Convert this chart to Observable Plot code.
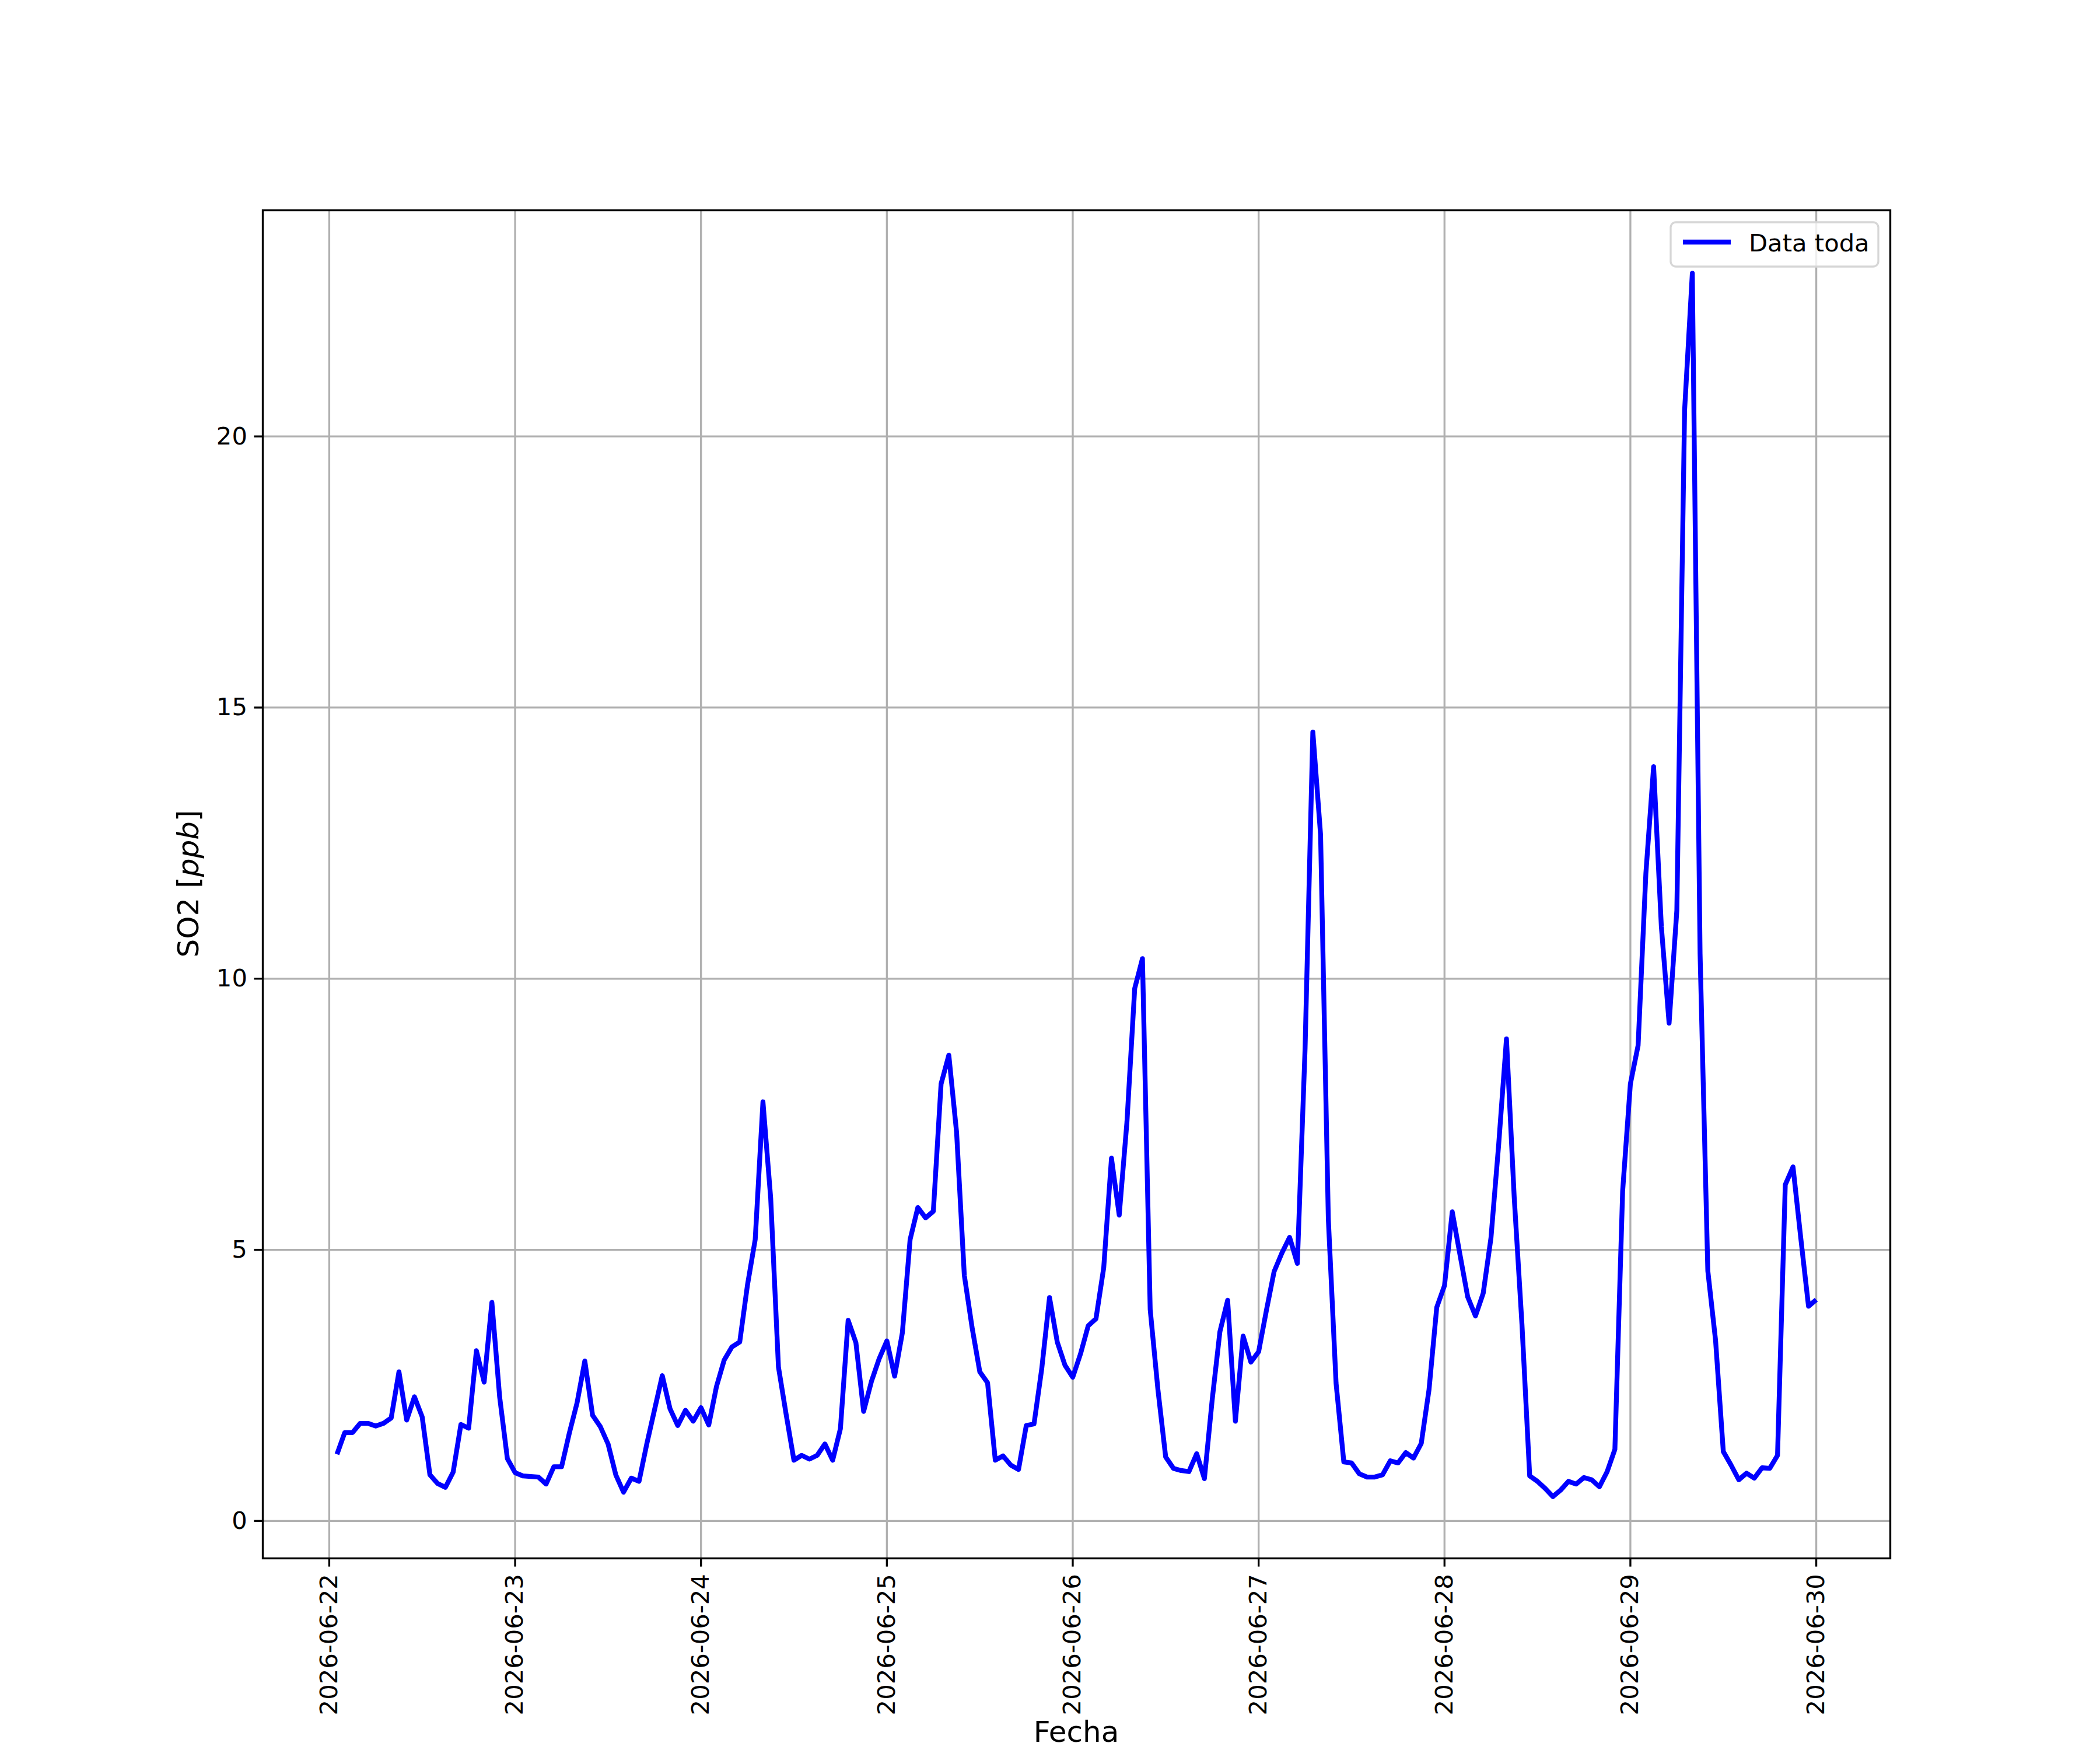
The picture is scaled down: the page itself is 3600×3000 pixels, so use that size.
<!DOCTYPE html>
<html>
<head>
<meta charset="utf-8">
<script src="https://cdn.jsdelivr.net/npm/d3@7"></script>
<script src="https://cdn.jsdelivr.net/npm/@observablehq/plot@0.6"></script>
<style>
  html, body { margin: 0; padding: 0; background: white; }
  #chart svg { display: block; }
</style>
</head>
<body>
<div id="chart"></div>
<script>
// Hourly SO2 readings, first reading 2026-06-22 01:00 (UTC), one per hour
const startTime = "2026-06-22T01:00:00Z";
const so2_0622 = [1.23, 1.63, 1.63, 1.80, 1.80, 1.75, 1.80, 1.90, 2.75, 1.86, 2.29, 1.92, 0.85, 0.69, 0.62, 0.90, 1.78, 1.71, 3.14, 2.56, 4.03, 2.29, 1.15];
const so2_0623 = [0.89, 0.83, 0.82, 0.81, 0.68, 1.00, 1.00, 1.62, 2.18, 2.95, 1.95, 1.74, 1.42, 0.85, 0.53, 0.79, 0.73, 1.42, 2.05, 2.68, 2.07, 1.76, 2.04, 1.84];
const so2_0624 = [2.09, 1.77, 2.48, 2.97, 3.21, 3.30, 4.35, 5.19, 7.73, 5.95, 2.84, 1.96, 1.12, 1.21, 1.14, 1.21, 1.42, 1.12, 1.70, 3.70, 3.29, 2.02, 2.57, 2.99];
const so2_0625 = [3.32, 2.67, 3.47, 5.19, 5.78, 5.59, 5.71, 8.06, 8.59, 7.17, 4.53, 3.57, 2.75, 2.55, 1.12, 1.20, 1.03, 0.95, 1.76, 1.79, 2.81, 4.12, 3.30, 2.87];
const so2_0626 = [2.65, 3.08, 3.60, 3.73, 4.67, 6.69, 5.64, 7.36, 9.82, 10.37, 3.90, 2.42, 1.18, 0.97, 0.93, 0.91, 1.24, 0.78, 2.23, 3.49, 4.07, 1.84, 3.41, 2.93];
const so2_0627 = [3.12, 3.88, 4.60, 4.94, 5.23, 4.75, 8.72, 14.55, 12.65, 5.57, 2.54, 1.09, 1.07, 0.87, 0.81, 0.81, 0.85, 1.11, 1.07, 1.26, 1.16, 1.43, 2.42, 3.94];
const so2_0628 = [4.34, 5.70, 4.91, 4.13, 3.78, 4.20, 5.22, 6.95, 8.89, 5.97, 3.63, 0.83, 0.73, 0.60, 0.45, 0.57, 0.73, 0.68, 0.80, 0.76, 0.63, 0.91, 1.32, 6.08];
const so2_0629 = [8.06, 8.77, 11.94, 13.91, 10.96, 9.18, 11.26, 20.48, 23.01, 10.46, 4.61, 3.33, 1.28, 1.03, 0.76, 0.88, 0.79, 0.98, 0.97, 1.21, 6.20, 6.53, 5.22, 3.96];
const so2_0630 = [4.08];

const xTicks = ["2026-06-22", "2026-06-23", "2026-06-24", "2026-06-25", "2026-06-26",
                "2026-06-27", "2026-06-28", "2026-06-29", "2026-06-30"];
const yTicks = [0, 5, 10, 15, 20];
const seriesName = "Data toda";
const xLabel = "Fecha";
const yLabelMain = "SO2 ";
const yLabelUnit = "ppb";

const values = [].concat(so2_0622, so2_0623, so2_0624, so2_0625, so2_0626, so2_0627, so2_0628, so2_0629, so2_0630);
const t0 = new Date(startTime);
const data = values.map((v, i) => ({ t: d3.utcHour.offset(t0, i), v }));
const tickDates = xTicks.map(s => new Date(s + "T00:00:00Z"));

const H = 3600e3;
const xDomain = [new Date(tickDates[0].getTime() - 8.58 * H), new Date(tickDates[8].getTime() + 9.56 * H)];

const FS = 41.7;
const LW = 3.33;
const SERIES_W = 8.3;

const plot = Plot.plot({
  width: 3600,
  height: 3000,
  marginLeft: 450,
  marginRight: 360,
  marginTop: 360,
  marginBottom: 329,
  style: { fontFamily: "'DejaVu Sans', sans-serif", fontSize: FS + "px", background: "white", color: "black" },
  x: { type: "utc", domain: xDomain },
  y: { domain: [-0.69, 24.17] },
  marks: [
    Plot.gridX(tickDates, { stroke: "#b0b0b0", strokeOpacity: 1, strokeWidth: LW }),
    Plot.gridY(yTicks, { stroke: "#b0b0b0", strokeOpacity: 1, strokeWidth: LW }),
    Plot.line(data, { x: "t", y: "v", stroke: "blue", strokeWidth: SERIES_W, strokeLinejoin: "round", strokeLinecap: "butt" }),
    Plot.frame({ stroke: "black", strokeWidth: LW }),
    Plot.axisY(yTicks, { tickSize: 14.6, tickPadding: 12, strokeWidth: LW, fontSize: FS, label: null,
      tickFormat: d3.format("d") }),
    Plot.axisX(tickDates, { tickSize: 14.6, tickPadding: 12, strokeWidth: LW, fontSize: FS, tickRotate: -90,
      tickFormat: d3.utcFormat("%Y-%m-%d"), label: null })
  ]
});

document.getElementById("chart").appendChild(plot);

const svg = d3.select(plot);
// y axis label with italic unit
const yl = svg.append("text")
  .attr("transform", "translate(340,1515) rotate(-90)")
  .attr("text-anchor", "middle")
  .attr("font-family", "'DejaVu Sans', sans-serif")
  .attr("font-size", 50)
  .attr("fill", "black");
yl.append("tspan").text(yLabelMain + "[");
yl.append("tspan").attr("font-style", "italic").text(yLabelUnit);
yl.append("tspan").text("]");

// x axis label
svg.append("text")
  .attr("x", 1845).attr("y", 2986)
  .attr("text-anchor", "middle")
  .attr("font-family", "'DejaVu Sans', sans-serif")
  .attr("font-size", 50)
  .attr("fill", "black")
  .text(xLabel);

// legend
const lg = svg.append("g").attr("text-anchor", "start");
lg.append("rect")
  .attr("x", 2864).attr("y", 381).attr("width", 356).attr("height", 76)
  .attr("rx", 9).attr("ry", 9)
  .attr("fill", "white").attr("fill-opacity", 0.8)
  .attr("stroke", "#d6d6d6").attr("stroke-width", LW);
lg.append("line")
  .attr("x1", 2885).attr("x2", 2967).attr("y1", 415).attr("y2", 415)
  .attr("stroke", "blue").attr("stroke-width", SERIES_W);
lg.append("text")
  .attr("x", 2998).attr("y", 431)
  .attr("text-anchor", "start")
  .attr("font-family", "'DejaVu Sans', sans-serif")
  .attr("font-size", FS)
  .attr("fill", "black")
  .text(seriesName);
</script>
</body>
</html>
